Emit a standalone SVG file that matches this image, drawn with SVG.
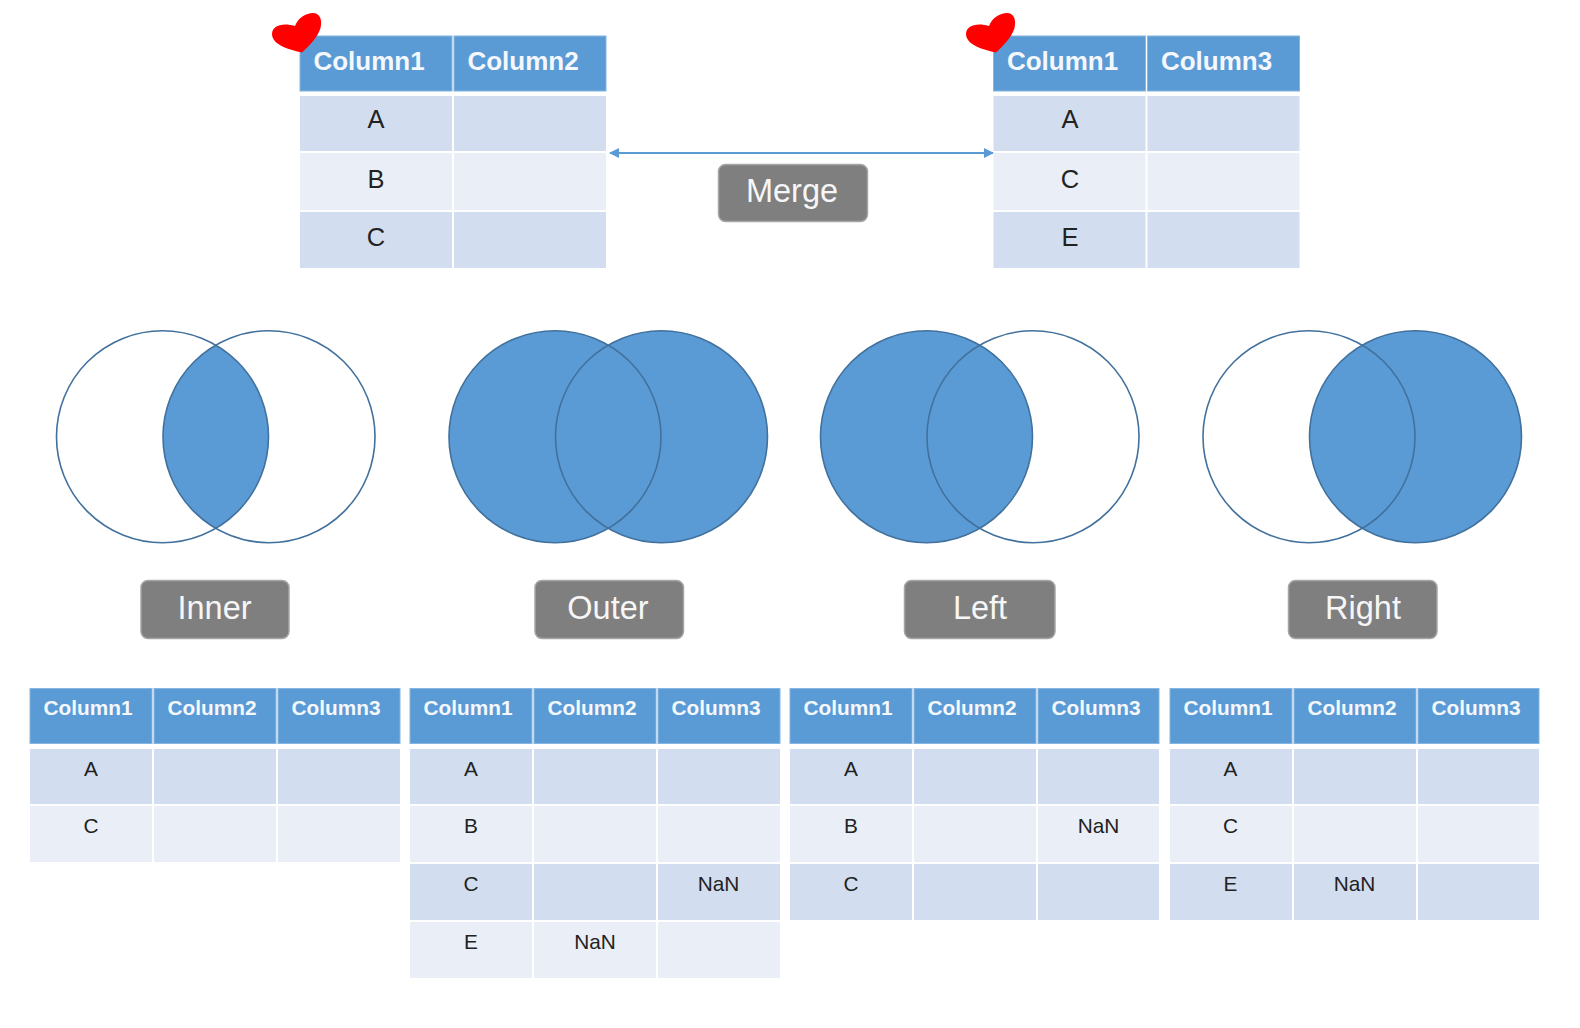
<svg xmlns="http://www.w3.org/2000/svg" width="1580" height="1028" viewBox="0 0 1580 1028">
<style>
text{font-family:"Liberation Sans",Arial,sans-serif;text-anchor:middle}
.h{fill:#5B9BD5;stroke:#85B5E0;stroke-width:1}
.a{fill:#D2DEEF}
.b{fill:#EAEFF7}
.ht{fill:#F4F8FC;font-weight:700;font-size:26px}
.ct{fill:#222;font-size:25.500px}
.hs{fill:#F4F8FC;font-weight:700;font-size:20.800px}
.cs{fill:#222;font-size:20.800px}
.btn{fill:#7F7F7F;stroke:#A6A6A6;stroke-width:1.5}
.bt{fill:#F6F6F6;font-size:32.500px}
.o{fill:none;stroke:#41719C;stroke-width:1.6}
.f{fill:#5B9BD5;stroke:none}
.heart{fill:#FF0000}
.arrow{stroke:#5B9BD5;stroke-width:2;fill:none;marker-start:url(#ah);marker-end:url(#ah)}
</style>
<defs>
<marker id="ah" viewBox="0 0 10 10" refX="9" refY="5" markerWidth="10" markerHeight="10" markerUnits="userSpaceOnUse" orient="auto-start-reverse"><path d="M0 0L10 5L0 10Z" fill="#5B9BD5"/></marker>
<clipPath id="c-inner"><circle cx="162.500" cy="436.7" r="106"/></clipPath>
<path id="hp" d="M302 52.500C290 50 272 45 272 34C272 26 282 22 295 26C298 18 306 13 313 13C320 13 322.500 20 320.500 28C318 37 309 46 302 52.500Z"/>
</defs>
<rect width="1580" height="1028" fill="#fff"/>

<g id="connectors"><line class="arrow" x1="610" y1="153" x2="993" y2="153"/></g>

<g id="table-left">
<rect class="h" x="300" y="36" width="152" height="55"/><rect class="h" x="454" y="36" width="152" height="55"/>
<rect class="a" x="300" y="96" width="152" height="55"/><rect class="a" x="454" y="96" width="152" height="55"/>
<rect class="b" x="300" y="153" width="152" height="57"/><rect class="b" x="454" y="153" width="152" height="57"/>
<rect class="a" x="300" y="212" width="152" height="56"/><rect class="a" x="454" y="212" width="152" height="56"/>
<text class="ht" x="369" y="70">Column1</text><text class="ht" x="523" y="70">Column2</text>
<text class="ct" x="376" y="128">A</text><text class="ct" x="376" y="188">B</text><text class="ct" x="376" y="246">C</text>
</g>
<g id="heart-left"><use href="#hp" class="heart"/></g>

<g id="table-right">
<rect class="h" x="993.500" y="36" width="152" height="55"/><rect class="h" x="1147.500" y="36" width="152" height="55"/>
<rect class="a" x="993.500" y="96" width="152" height="55"/><rect class="a" x="1147.500" y="96" width="152" height="55"/>
<rect class="b" x="993.500" y="153" width="152" height="57"/><rect class="b" x="1147.500" y="153" width="152" height="57"/>
<rect class="a" x="993.500" y="212" width="152" height="56"/><rect class="a" x="1147.500" y="212" width="152" height="56"/>
<text class="ht" x="1062.500" y="70">Column1</text><text class="ht" x="1216.500" y="70">Column3</text>
<text class="ct" x="1070" y="128">A</text><text class="ct" x="1070" y="188">C</text><text class="ct" x="1070" y="246">E</text>
</g>
<g id="heart-right"><use href="#hp" class="heart" x="694"/></g>

<g id="merge"><rect class="btn" x="718.500" y="164.500" width="149" height="57" rx="7"/><text class="bt" x="792" y="202">Merge</text></g>

<g id="venn-inner">
<circle class="f" cx="269" cy="436.7" r="106" clip-path="url(#c-inner)"/>
<circle class="o" cx="162.500" cy="436.7" r="106"/><circle class="o" cx="269" cy="436.7" r="106"/>
</g>
<g id="venn-outer">
<circle class="f" cx="555" cy="436.7" r="106"/><circle class="f" cx="661.500" cy="436.7" r="106"/>
<circle class="o" cx="555" cy="436.7" r="106"/><circle class="o" cx="661.500" cy="436.7" r="106"/>
</g>
<g id="venn-left">
<circle class="f" cx="926.500" cy="436.7" r="106"/>
<circle class="o" cx="926.500" cy="436.7" r="106"/><circle class="o" cx="1033" cy="436.7" r="106"/>
</g>
<g id="venn-right">
<circle class="f" cx="1415.500" cy="436.7" r="106"/>
<circle class="o" cx="1309" cy="436.7" r="106"/><circle class="o" cx="1415.500" cy="436.7" r="106"/>
</g>

<g id="btn-inner"><rect class="btn" x="141" y="580.500" width="148" height="58" rx="7"/><text class="bt" x="214.500" y="618.500">Inner</text></g>
<g id="btn-outer"><rect class="btn" x="535" y="580.500" width="148.500" height="58" rx="7"/><text class="bt" x="608" y="618.500">Outer</text></g>
<g id="btn-left"><rect class="btn" x="904.500" y="580.500" width="150.500" height="58" rx="7"/><text class="bt" x="980" y="618.500">Left</text></g>
<g id="btn-right"><rect class="btn" x="1288.500" y="580.500" width="148.500" height="58" rx="7"/><text class="bt" x="1363" y="618.500">Right</text></g>

<g id="table-inner">
<rect class="h" x="30" y="688.500" width="122" height="55"/><rect class="h" x="154" y="688.500" width="122" height="55"/><rect class="h" x="278" y="688.500" width="122" height="55"/>
<rect class="a" x="30" y="749" width="122" height="55"/><rect class="a" x="154" y="749" width="122" height="55"/><rect class="a" x="278" y="749" width="122" height="55"/>
<rect class="b" x="30" y="806" width="122" height="56"/><rect class="b" x="154" y="806" width="122" height="56"/><rect class="b" x="278" y="806" width="122" height="56"/>
<text class="hs" x="88" y="715">Column1</text><text class="hs" x="212" y="715">Column2</text><text class="hs" x="336" y="715">Column3</text>
<text class="cs" x="91" y="775.500">A</text><text class="cs" x="91" y="833">C</text>
</g>

<g id="table-outer">
<rect class="h" x="410" y="688.500" width="122" height="55"/><rect class="h" x="534" y="688.500" width="122" height="55"/><rect class="h" x="658" y="688.500" width="122" height="55"/>
<rect class="a" x="410" y="749" width="122" height="55"/><rect class="a" x="534" y="749" width="122" height="55"/><rect class="a" x="658" y="749" width="122" height="55"/>
<rect class="b" x="410" y="806" width="122" height="56"/><rect class="b" x="534" y="806" width="122" height="56"/><rect class="b" x="658" y="806" width="122" height="56"/>
<rect class="a" x="410" y="864" width="122" height="56"/><rect class="a" x="534" y="864" width="122" height="56"/><rect class="a" x="658" y="864" width="122" height="56"/>
<rect class="b" x="410" y="922" width="122" height="56"/><rect class="b" x="534" y="922" width="122" height="56"/><rect class="b" x="658" y="922" width="122" height="56"/>
<text class="hs" x="468" y="715">Column1</text><text class="hs" x="592" y="715">Column2</text><text class="hs" x="716" y="715">Column3</text>
<text class="cs" x="471" y="775.500">A</text><text class="cs" x="471" y="833">B</text><text class="cs" x="471" y="891">C</text><text class="cs" x="471" y="949">E</text>
<text class="cs" x="718.500" y="891">NaN</text><text class="cs" x="595" y="949">NaN</text>
</g>

<g id="table-left-join">
<rect class="h" x="790" y="688.500" width="122" height="55"/><rect class="h" x="914" y="688.500" width="122" height="55"/><rect class="h" x="1038" y="688.500" width="121" height="55"/>
<rect class="a" x="790" y="749" width="122" height="55"/><rect class="a" x="914" y="749" width="122" height="55"/><rect class="a" x="1038" y="749" width="121" height="55"/>
<rect class="b" x="790" y="806" width="122" height="56"/><rect class="b" x="914" y="806" width="122" height="56"/><rect class="b" x="1038" y="806" width="121" height="56"/>
<rect class="a" x="790" y="864" width="122" height="56"/><rect class="a" x="914" y="864" width="122" height="56"/><rect class="a" x="1038" y="864" width="121" height="56"/>
<text class="hs" x="848" y="715">Column1</text><text class="hs" x="972" y="715">Column2</text><text class="hs" x="1096" y="715">Column3</text>
<text class="cs" x="851" y="775.500">A</text><text class="cs" x="851" y="833">B</text><text class="cs" x="851" y="891">C</text>
<text class="cs" x="1098.500" y="833">NaN</text>
</g>

<g id="table-right-join">
<rect class="h" x="1170" y="688.500" width="122" height="55"/><rect class="h" x="1294" y="688.500" width="122" height="55"/><rect class="h" x="1418" y="688.500" width="121" height="55"/>
<rect class="a" x="1170" y="749" width="122" height="55"/><rect class="a" x="1294" y="749" width="122" height="55"/><rect class="a" x="1418" y="749" width="121" height="55"/>
<rect class="b" x="1170" y="806" width="122" height="56"/><rect class="b" x="1294" y="806" width="122" height="56"/><rect class="b" x="1418" y="806" width="121" height="56"/>
<rect class="a" x="1170" y="864" width="122" height="56"/><rect class="a" x="1294" y="864" width="122" height="56"/><rect class="a" x="1418" y="864" width="121" height="56"/>
<text class="hs" x="1228" y="715">Column1</text><text class="hs" x="1352" y="715">Column2</text><text class="hs" x="1476" y="715">Column3</text>
<text class="cs" x="1230.500" y="775.500">A</text><text class="cs" x="1230.500" y="833">C</text><text class="cs" x="1230.500" y="891">E</text>
<text class="cs" x="1354.500" y="891">NaN</text>
</g>
</svg>
